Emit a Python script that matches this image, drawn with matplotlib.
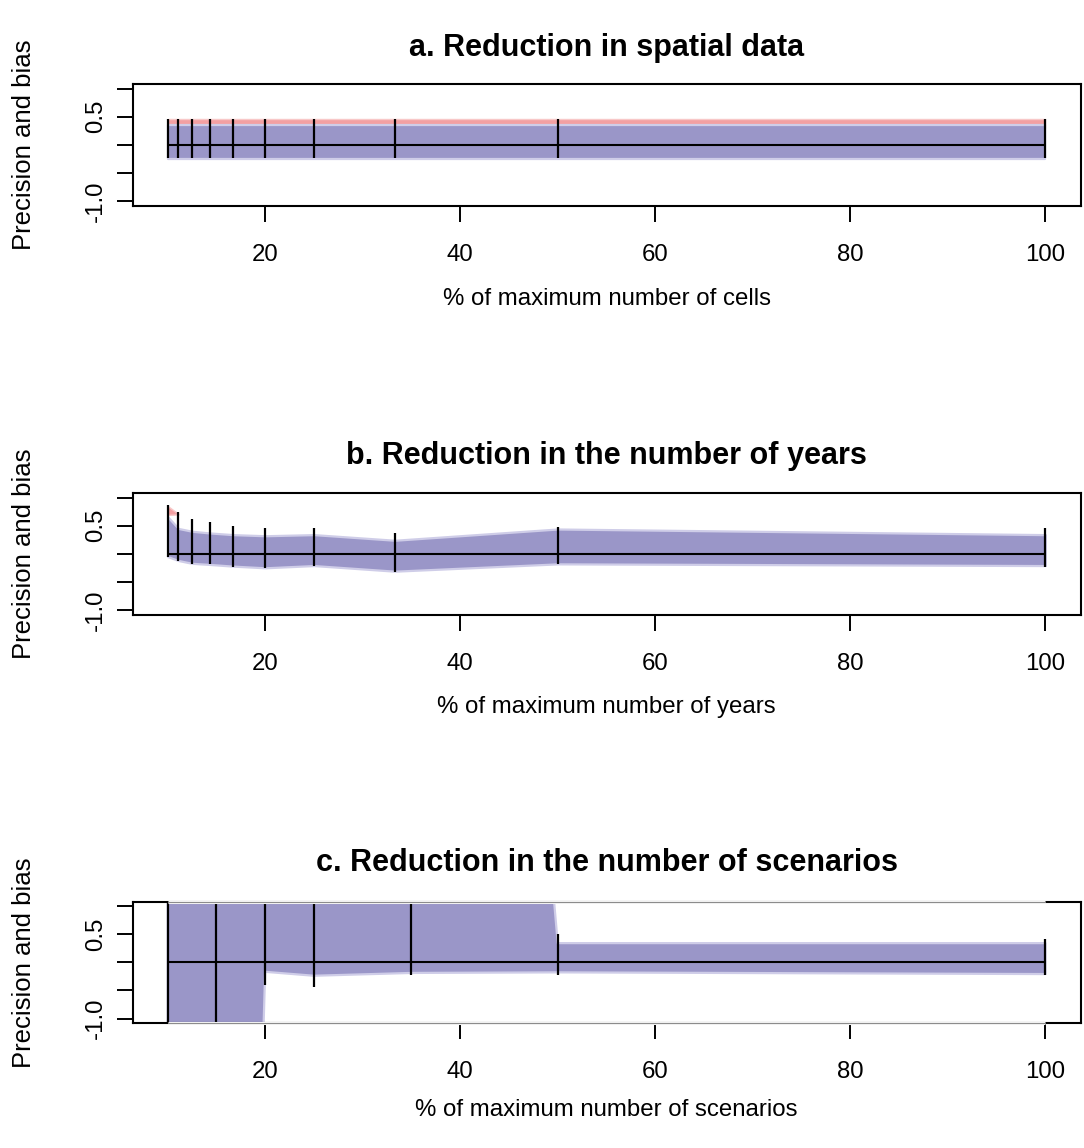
import matplotlib
matplotlib.use("Agg")
import matplotlib.pyplot as plt
import numpy as np

plt.rcParams['font.family'] = ['Liberation Sans', 'DejaVu Sans']

# ---------------- data ----------------
x_cells = [10, 11.1, 12.5, 14.3, 16.7, 20, 25, 33.3, 50, 100]
a_center = [0, 0, 0, 0, 0, 0, 0, 0, 0, 0]
a_bar_hi = [0.46, 0.46, 0.46, 0.46, 0.46, 0.46, 0.46, 0.46, 0.46, 0.46]
a_bar_lo = [-0.24, -0.24, -0.24, -0.24, -0.24, -0.24, -0.24, -0.24, -0.24, -0.24]
a_blue_hi = [0.35, 0.35, 0.35, 0.35, 0.35, 0.35, 0.35, 0.35, 0.35, 0.35]
a_blue_lo = [-0.25, -0.25, -0.25, -0.25, -0.25, -0.25, -0.25, -0.25, -0.25, -0.25]
a_red_hi = [0.46, 0.46, 0.46, 0.46, 0.46, 0.46, 0.46, 0.46, 0.46, 0.46]
a_red_lo = [0.30, 0.30, 0.30, 0.30, 0.30, 0.30, 0.30, 0.30, 0.30, 0.30]

x_years = [10, 11.1, 12.5, 14.3, 16.7, 20, 25, 33.3, 50, 100]
b_center = [0, 0, 0, 0, 0, 0, 0, 0, 0, 0]
b_bar_hi = [0.87, 0.75, 0.61, 0.56, 0.49, 0.45, 0.46, 0.37, 0.47, 0.45]
b_bar_lo = [-0.06, -0.12, -0.18, -0.19, -0.24, -0.26, -0.21, -0.32, -0.18, -0.235]
b_blue_hi = [0.66, 0.45, 0.40, 0.37, 0.34, 0.32, 0.34, 0.24, 0.44, 0.34]
b_blue_lo = [-0.05, -0.12, -0.17, -0.19, -0.22, -0.25, -0.21, -0.31, -0.18, -0.21]
b_red_hi = [0.85, 0.71, np.nan, np.nan, np.nan, np.nan, np.nan, np.nan, np.nan, np.nan]
b_red_lo = [0.69, 0.70, np.nan, np.nan, np.nan, np.nan, np.nan, np.nan, np.nan, np.nan]

x_scen = [10, 15, 20, 25, 35, 50, 100]
c_center = [0, 0, 0, 0, 0, 0, 0]
c_bar_hi = [1.5, 1.5, 1.5, 1.5, 1.5, 0.51, 0.42]
c_bar_lo = [-1.5, -1.5, -0.41, -0.44, -0.23, -0.23, -0.23]
c_blue_hi = [30, 30, 30, 30, 30, 0.34, 0.34]
c_blue_lo = [-30, -30, -0.17, -0.24, -0.19, -0.18, -0.21]

titles = ["a. Reduction in spatial data",
          "b. Reduction in the number of years",
          "c. Reduction in the number of scenarios"]
xlabels = ["% of maximum number of cells",
           "% of maximum number of years",
           "% of maximum number of scenarios"]
ylabel = "Precision and bias"
xticks = [20, 40, 60, 80, 100]
yticks = [-1.0, -0.5, 0.0, 0.5, 1.0]
yticklabels = ["-1.0", "", "", "0.5", ""]

# ---------------- style ----------------
W, H = 1084, 1148
fig = plt.figure(figsize=(W / 100, H / 100), dpi=100)

BLUE = '#9a96c8'
FRINGE = '#cfcde8'
RED = '#f3a0a2'
FS = 17.3
TFS = 22
YFS = 18.5

panels = [
    (x_cells, a_center, a_bar_hi, a_bar_lo, a_blue_hi, a_blue_lo, a_red_hi, a_red_lo),
    (x_years, b_center, b_bar_hi, b_bar_lo, b_blue_hi, b_blue_lo, b_red_hi, b_red_lo),
    (x_scen, c_center, c_bar_hi, c_bar_lo, c_blue_hi, c_blue_lo, None, None),
]
frame_tops = [84, 493, 901.5]
frame_h = 121.5
left_px, right_px = 132.5, 1080.5
title_y = [48, 456, 863]
xlabel_y = [299, 707, 1110]

ylim = (-1.08, 1.08)
xlim = (6.4, 103.6)

for i, (x, cen, bhi, blo, uhi, ulo, rhi, rlo) in enumerate(panels):
    top = frame_tops[i]
    ax = fig.add_axes([left_px / W, 1 - (top + frame_h) / H,
                       (right_px - left_px) / W, frame_h / H])
    x = np.asarray(x, float)
    if rhi is not None:
        ax.fill_between(x, np.asarray(rlo, float), np.asarray(rhi, float),
                        facecolor=RED, edgecolor='#f8c8c8', lw=1.0, zorder=1)
    ax.fill_between(x, ulo, uhi, facecolor=BLUE, edgecolor=FRINGE, lw=1.6, zorder=2)
    ax.plot(x, cen, color='black', lw=1.5, zorder=4, solid_capstyle='butt')
    ax.vlines(x, blo, bhi, color='black', lw=1.6, zorder=4)

    ax.set_xlim(*xlim)
    ax.set_ylim(*ylim)
    ax.set_xticks(xticks)
    ax.set_xticklabels([str(t) for t in xticks], fontsize=FS)
    ax.set_yticks(yticks)
    ax.set_yticklabels(yticklabels, fontsize=FS, rotation=90, va='center')
    ax.tick_params(axis='both', length=11.5, width=1.4, color='black')
    ax.tick_params(axis='x', pad=16)
    ax.tick_params(axis='y', pad=7)
    for s in ax.spines.values():
        s.set_linewidth(1.5)
        s.set_zorder(3)

    if i == 2:
        # frame greyed where the band overlaps it
        for yy in ylim:
            ax.plot([x[0], x[-1]], [yy, yy], color='white', lw=2.2,
                    clip_on=False, zorder=5, solid_capstyle='butt')
            ax.plot([x[0], x[-1]], [yy, yy], color='#8c8c8c', lw=0.9,
                    clip_on=False, zorder=6, solid_capstyle='butt')

    cx = (left_px + right_px) / 2 / W
    fig.text(cx, 1 - title_y[i] / H, titles[i], fontsize=TFS, fontweight='bold',
             ha='center', va='center')
    fig.text(cx, 1 - xlabel_y[i] / H, xlabels[i], fontsize=FS,
             ha='center', va='center')
    fig.text(24 / W, 1 - (top + frame_h / 2) / H, ylabel, fontsize=YFS,
             rotation=90, ha='center', va='center')

fig.savefig("out.png", dpi=100)
